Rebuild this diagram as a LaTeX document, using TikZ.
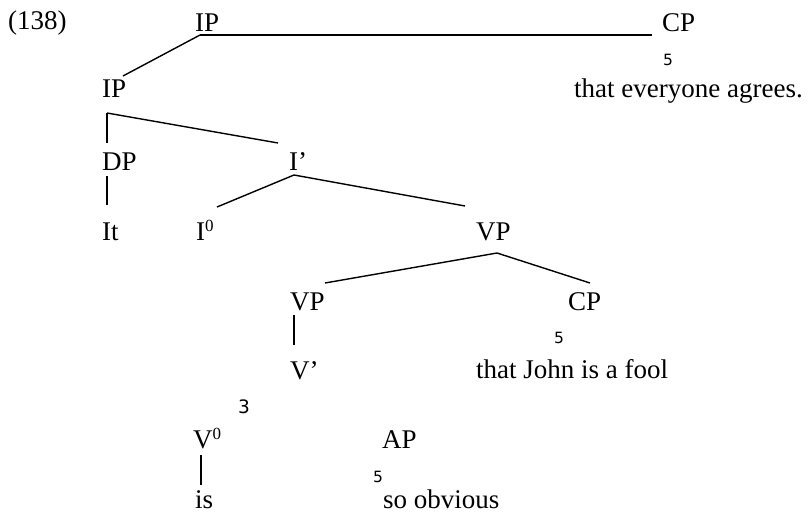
\documentclass[tikz,border=0pt]{standalone}
\usepackage{fontspec}
\setmainfont{Liberation Serif}
\newfontfamily\trifont{DejaVu Sans}
\newcommand{\zerosup}{\raisebox{8.5pt}{\fontsize{17}{17}\selectfont 0}}
\begin{document}
\begin{tikzpicture}[
    x=1pt, y=-1pt,
    cat/.style={anchor=base west, inner sep=0pt, font=\fontsize{27}{31}\selectfont},
    tri/.style={inner sep=0pt, font=\trifont\fontsize{15.5}{17}\selectfont},
    branch/.style={line width=1.4pt}
]
\useasboundingbox (0,0) rectangle (810,524);
% Example number
\node[cat] (num) at (8,30) {(138)};
% Top level
\node[cat] (iptop) at (195,32) {IP};
\node[cat] (cptop) at (662,32) {CP};
\node[tri] (trione) at (668,60) {5};
\node[cat] (agree) at (574,98) {that everyone agrees.};
% IP layer
\node[cat] (ip) at (102,98) {IP};
\node[cat] (dp) at (102,170) {DP};
\node[cat] (ibar) at (289,170) {I’};
\node[cat] (it) at (102,240) {It};
\node[cat] (izero) at (196,240) {I\zerosup};
\node[cat] (vp) at (476,240) {VP};
% VP layer
\node[cat] (vplow) at (290,310) {VP};
\node[cat] (cplow) at (568,310) {CP};
\node[tri] (tritwo) at (559,338) {5};
\node[cat] (fool) at (476,378) {that John is a fool};
\node[cat] (vbar) at (290,379) {V’};
% Lowest layer
\node[tri, font=\trifont\fontsize{18.5}{20}\selectfont] (trithree) at (244,407) {3};
\node[cat] (vzero) at (193,448) {V\zerosup};
\node[cat] (ap) at (382,448) {AP};
\node[tri] (trifour) at (378,477) {5};
\node[cat] (is) at (195,508) {is};
\node[cat] (obv) at (383,508) {so obvious};
% Branches
\draw[branch] ([xshift=5pt,yshift=-3pt]iptop.base west) -- ([xshift=-10pt,yshift=-3pt]cptop.base west);
\draw[branch] ([xshift=5pt,yshift=-3pt]iptop.base west) -- ([xshift=21pt,yshift=22pt]ip.base west);
\draw[branch] ([xshift=5pt,yshift=-15pt]ip.base west) -- ([xshift=5pt,yshift=27pt]dp.base west);
\draw[branch] ([xshift=5pt,yshift=-15pt]ip.base west) -- ([xshift=-11pt,yshift=27pt]ibar.base west);
\draw[branch] ([xshift=5pt,yshift=-6pt]dp.base west) -- ([xshift=5pt,yshift=35pt]it.base west);
\draw[branch] ([xshift=5pt,yshift=-5pt]ibar.base west) -- ([xshift=21pt,yshift=33pt]izero.base west);
\draw[branch] ([xshift=5pt,yshift=-5pt]ibar.base west) -- ([xshift=-11pt,yshift=34pt]vp.base west);
\draw[branch] ([xshift=21pt,yshift=-13pt]vp.base west) -- ([xshift=35pt,yshift=27pt]vplow.base west);
\draw[branch] ([xshift=21pt,yshift=-13pt]vp.base west) -- ([xshift=22pt,yshift=27pt]cplow.base west);
\draw[branch] ([xshift=4pt,yshift=-5pt]vplow.base west) -- ([xshift=4pt,yshift=34pt]vbar.base west);
\draw[branch] ([xshift=8pt,yshift=-7pt]vzero.base west) -- ([xshift=6pt,yshift=23pt]is.base west);
\end{tikzpicture}
\end{document}
